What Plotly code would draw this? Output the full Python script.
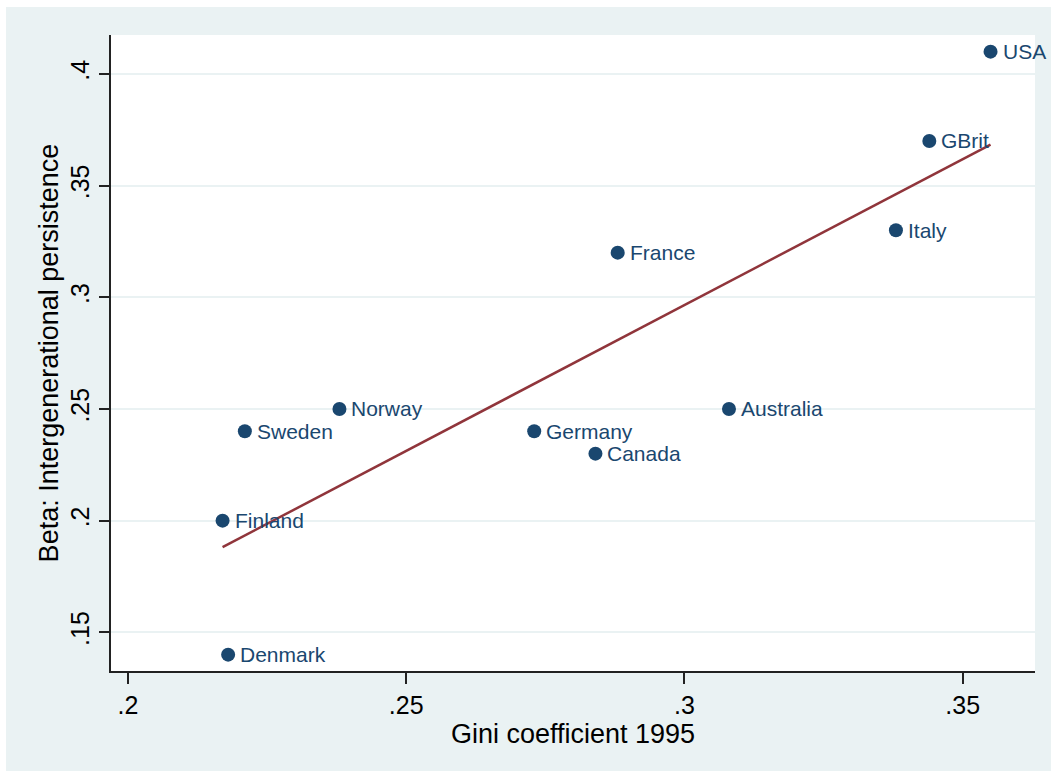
import numpy as np
import plotly.graph_objects as go

# Country-level data: income inequality vs. intergenerational earnings persistence
countries = ["USA", "GBrit", "Italy", "France", "Australia", "Germany",
             "Canada", "Norway", "Sweden", "Finland", "Denmark"]
gini_1995 = [0.355, 0.344, 0.338, 0.288, 0.308, 0.273, 0.284, 0.238, 0.221, 0.217, 0.218]
beta = [0.41, 0.37, 0.33, 0.32, 0.25, 0.24, 0.23, 0.25, 0.24, 0.20, 0.14]

x_ticks = [0.2, 0.25, 0.3, 0.35]
x_ticklabels = [".2", ".25", ".3", ".35"]
y_ticks = [0.15, 0.2, 0.25, 0.3, 0.35, 0.4]
y_ticklabels = [".15", ".2", ".25", ".3", ".35", ".4"]

NAVY = "#1A476F"
MAROON = "#90353B"
REGION_BG = "#EAF2F3"
FONT = "Liberation Sans, Arial, sans-serif"

# Linear fit over the observed range
slope, intercept = np.polyfit(gini_1995, beta, 1)
fit_x = np.array([min(gini_1995), max(gini_1995)])
fit_y = slope * fit_x + intercept

fig = go.Figure()
fig.add_trace(go.Scatter(
    x=gini_1995, y=beta, mode="markers",
    marker=dict(size=14, color=NAVY),
    cliponaxis=False, showlegend=False, hoverinfo="skip",
))
fig.add_trace(go.Scatter(
    x=fit_x, y=fit_y, mode="lines",
    line=dict(color=MAROON, width=2.5),
    showlegend=False, hoverinfo="skip",
))

# Country name beside each marker
for name, gx, by in zip(countries, gini_1995, beta):
    fig.add_annotation(
        x=gx, y=by, text=name, showarrow=False,
        xanchor="left", yanchor="middle", xshift=10, yshift=0,
        font=dict(family=FONT, size=21, color=NAVY),
    )

W, H = 1051, 771
ml, mr, mt, mb = 111, 16, 35, 100
pw, ph = W - ml - mr, H - mt - mb

# Graph region background (inset from the top-left page edge) and white plot region
fig.add_shape(type="rect", xref="paper", yref="paper", layer="below",
              x0=(6 - ml) / pw, x1=(W - ml) / pw + 0.01,
              y0=-(mb + 5) / ph, y1=(H - mb - 7) / ph,
              fillcolor=REGION_BG, line=dict(width=0))
fig.add_shape(type="rect", xref="paper", yref="paper", layer="below",
              x0=0, x1=1, y0=0, y1=1,
              fillcolor="white", line=dict(width=0))

fig.update_layout(
    width=W, height=H,
    margin=dict(l=ml, r=mr, t=mt, b=mb, pad=0),
    paper_bgcolor="white", plot_bgcolor="white",
    font=dict(family=FONT, color="black"),
    xaxis=dict(
        range=[0.19695, 0.36299],
        tickvals=x_ticks, ticktext=x_ticklabels,
        tickfont=dict(size=25, color="black"),
        ticks="outside", ticklen=11, tickwidth=1.5, tickcolor="#222222",
        showline=True, linecolor="#222222", linewidth=1.5,
        showgrid=False, zeroline=False,
        title=dict(text="Gini coefficient 1995", font=dict(size=27, color="black"), standoff=2),
    ),
    yaxis=dict(
        range=[0.13267, 0.41746],
        tickvals=y_ticks, ticktext=y_ticklabels, tickangle=-90,
        tickfont=dict(size=25, color="black"),
        ticks="outside", ticklen=10, tickwidth=1.5, tickcolor="#222222",
        showline=True, linecolor="#222222", linewidth=1.5,
        showgrid=True, gridcolor=REGION_BG, gridwidth=2,
        zeroline=False,
        title=dict(text="Beta: Intergenerational persistence", font=dict(size=27, color="black"), standoff=0),
    ),
)

fig.write_html("out.html")
